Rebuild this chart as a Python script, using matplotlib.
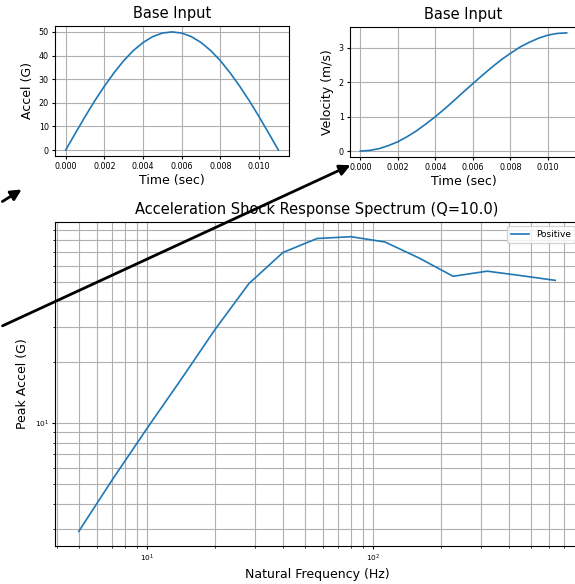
import matplotlib
matplotlib.use("Agg")
import matplotlib.pyplot as plt
from matplotlib.patches import FancyArrowPatch
from matplotlib.ticker import MultipleLocator

# ______________________________________________________________________________
# Data

# base input, sampled every 0.5 ms
time_s = [0.0, 0.0005, 0.001, 0.0015, 0.002, 0.0025, 0.003, 0.0035, 0.004, 0.0045,
          0.005, 0.0055, 0.006, 0.0065, 0.007, 0.0075, 0.008, 0.0085, 0.009, 0.0095,
          0.010, 0.0105, 0.011]
accel_g = [0.0, 7.1, 14.1, 20.8, 27.0, 32.7, 37.8, 42.1, 45.5, 48.0,
           49.5, 50.0, 49.5, 48.0, 45.5, 42.1, 37.8, 32.7, 27.0, 20.8,
           14.1, 7.1, 0.0]
velocity_ms = [0.0, 0.02, 0.07, 0.16, 0.27, 0.42, 0.59, 0.79, 1.00, 1.23,
               1.47, 1.72, 1.96, 2.20, 2.43, 2.65, 2.84, 3.02, 3.16, 3.28,
               3.37, 3.42, 3.435]

# shock response spectrum, half-octave natural frequencies
freq_hz = [5, 7.07, 10, 14.14, 20, 28.28, 40, 56.57, 80, 113.1,
           160, 226.3, 320, 452.5, 640]
peak_accel_g = [2.92, 5.3, 9.4, 16.4, 29.0, 49.0, 69.8, 81.8, 83.5, 78.6,
                65.5, 53.2, 56.4, 53.6, 50.8]

q_factor = 10.0

TITLE_SIZE = 10.5
LABEL_SIZE = 9.0
TICK_SIZE = 5.8

fig = plt.figure(figsize=(5.75, 5.84), dpi=100)

ax_acc = fig.add_axes([0.0957, 0.7329, 0.4070, 0.2226])
ax_vel = fig.add_axes([0.6087, 0.7312, 0.3948, 0.2226])
ax_srs = fig.add_axes([0.0957, 0.0651, 0.9113, 0.5548])

ax_acc.plot(time_s, accel_g, lw=1.2)
ax_acc.set_title('Base Input', fontsize=TITLE_SIZE)
ax_acc.set_xlabel('Time (sec)', fontsize=LABEL_SIZE, labelpad=2)
ax_acc.set_ylabel('Accel (G)', fontsize=LABEL_SIZE, labelpad=3)
ax_acc.yaxis.set_major_locator(MultipleLocator(10))
ax_acc.grid(True)

ax_vel.plot(time_s, velocity_ms, lw=1.2)
ax_vel.set_title('Base Input', fontsize=TITLE_SIZE)
ax_vel.set_xlabel('Time (sec)', fontsize=LABEL_SIZE, labelpad=2)
ax_vel.set_ylabel('Velocity (m/s)', fontsize=LABEL_SIZE, labelpad=3)
ax_vel.yaxis.set_major_locator(MultipleLocator(1))
ax_vel.grid(True)

for ax in (ax_acc, ax_vel):
    ax.set_xticks([0.0, 0.002, 0.004, 0.006, 0.008, 0.010])
    ax.set_xticklabels(['{:.3f}'.format(t) for t in ax.get_xticks()])
    ax.tick_params(labelsize=TICK_SIZE, length=2.5, pad=2)

ax_srs.loglog(freq_hz, peak_accel_g, lw=1.2, label='Positive')
ax_srs.set_title('Acceleration Shock Response Spectrum (Q={})'.format(q_factor),
                 fontsize=TITLE_SIZE)
ax_srs.set_xlabel('Natural Frequency (Hz)', fontsize=LABEL_SIZE, labelpad=3)
ax_srs.set_ylabel('Peak Accel (G)', fontsize=LABEL_SIZE)
ax_srs.grid(True, which='both')
ax_srs.tick_params(which='both', labelsize=TICK_SIZE - 0.5, pad=2)
ax_srs.tick_params(which='major', length=2.5)
ax_srs.tick_params(which='minor', length=1.5)
ax_srs.legend(loc='upper right', fontsize=6.5)

# annotation arrows pointing at the input plots (figure fraction coords)
W, H = 575.0, 584.0
arrows = [((0, 203), (24, 188)), ((0, 327), (353, 164))]
for (x0, y0), (x1, y1) in arrows:
    arr = FancyArrowPatch((x0 / W, 1 - y0 / H), (x1 / W, 1 - y1 / H),
                          transform=fig.transFigure, arrowstyle='-|>',
                          mutation_scale=16, lw=2, color='black')
    fig.add_artist(arr)

fig.savefig('out.png', dpi=100)
